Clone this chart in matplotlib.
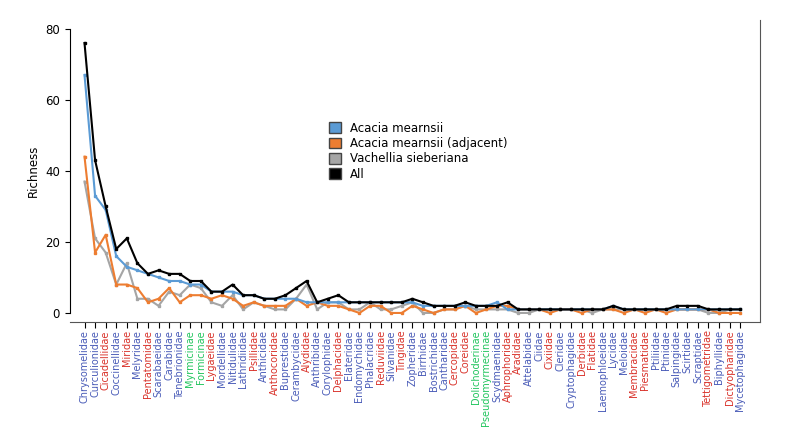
import matplotlib
matplotlib.use("Agg")
import matplotlib.pyplot as plt
from matplotlib.patches import Patch

families = ["Chrysomelidae","Curculionidae","Cicadellidae","Coccinellidae","Miridae","Melyridae",
    "Pentatomidae","Scarabaeidae","Carabidae","Tenebrionidae","Myrmicinae","Formicinae","Lygaeidae",
    "Mordellidae","Nitidulidae","Lathridiidae","Psillidae","Anthicidae","Anthocoridae","Buprestidae",
    "Cerambycidae","Alydidae","Anthribidae","Corylophidae","Delphacidae","Elateridae","Endomychidae",
    "Phalacridae","Reduviidae","Silvanidae","Tingidae","Zopheridae","Birrhidae","Bostrichidae",
    "Cantharidae","Cercopidae","Coreidae","Dolichoderinae","Pseudomyrmecinae","Scydmaenidae",
    "Aphrophoridae","Aradidae","Attelabidae","Ciidae","Cixiidae","Cleridae","Cryptophagidae",
    "Derbidae","Flatidae","Laemophloeidae","Lycidae","Meloidae","Membracidae","Piesmatidae",
    "Ptiliidae","Ptinidae","Salpingidae","Scirtidae","Scraptidae","Tettigometridae","Biphyllidae",
    "Dictyopharidae","Mycetophagidae"]
groups = "BBRBRBRBBBGGRBBBRBRBBRBBRBBBRBRBBBBRRGGBRRBBRBBRRBBBRRBBBBBRBRB"

all_taxa = [76,43,30,18,21,14,11,12,11,11,9,9,6,6,8,5,5,4,4,5,7,9,3,4,5,3,3,3,3,3,3,4,3,2,2,2,3,
            2,2,2,3,1,1,1,1,1,1,1,1,1,2,1,1,1,1,1,2,2,2,1,1,1,1]
mearnsii = [67,33,29,16,13,12,11,10,9,9,8,8,6,6,6,5,5,4,4,4,4,3,3,3,3,3,3,3,3,3,3,3,2,2,2,2,2,
            2,2,3,1,1,1,1,1,1,1,1,1,1,2,1,1,1,1,1,1,1,1,1,1,1,1]
adjacent = [44,17,22,8,8,7,3,4,7,3,5,5,4,5,4,2,3,2,2,2,4,2,3,2,2,1,0,2,2,0,0,2,1,0,1,1,2,
            0,1,2,2,1,1,1,0,1,1,0,1,1,1,0,1,0,1,0,1,1,1,1,0,0,0]
sieberiana = [37,21,17,8,14,4,4,2,6,5,8,7,3,2,5,1,3,2,1,1,4,8,1,3,3,1,1,3,1,1,2,3,0,0,1,1,2,
              1,1,1,1,0,0,1,1,1,1,1,0,1,1,1,1,1,1,1,1,1,1,0,0,1,1]

cmap = {"B": "#4a5cb8", "R": "#d9332b", "G": "#22c55e"}
x = list(range(len(families)))

fig, ax = plt.subplots(figsize=(7.92, 4.32), dpi=100)
fig.subplots_adjust(left=0.088, right=0.96, top=0.954, bottom=0.255)
series = [(mearnsii, "#5b9bd5", "Acacia mearnsii"),
          (adjacent, "#ed7d31", "Acacia mearnsii (adjacent)"),
          (sieberiana, "#a5a5a5", "Vachellia sieberiana"),
          (all_taxa, "black", "All")]
for vals, c, lab in [series[2], series[1], series[0], series[3]]:
    ax.plot(x, vals, color=c, lw=1.5, marker="s", ms=2.0)

ax.set_xlim(-1.4, 63.9)
ax.set_ylim(-2.5, 82.5)
ax.set_yticks([0, 20, 40, 60, 80])
ax.set_ylabel("Richness", fontsize=8.5)
ax.set_xticks(x)
ax.set_xticklabels(families, rotation=90, fontsize=7)
for t, g in zip(ax.get_xticklabels(), groups):
    t.set_color(cmap[g])
ax.tick_params(axis="y", labelsize=8.5)
ax.tick_params(axis="x", length=4, pad=2)
ax.spines["top"].set_visible(False)
ax.spines["right"].set_color("#555555")
ax.spines["bottom"].set_color("#555555")
ax.spines["left"].set_bounds(0, 80)

handles = [Patch(facecolor=c, edgecolor="#444444", label=l) for _, c, l in series]
ax.legend(handles=handles, loc="center left", bbox_to_anchor=(0.36, 0.565), frameon=False,
          fontsize=8.5, handlelength=1.0, handleheight=1.0, labelspacing=0.2)
fig.savefig("out.png")
